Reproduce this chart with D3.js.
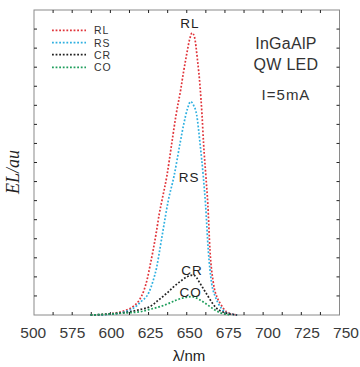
<!DOCTYPE html>
<html><head><meta charset="utf-8">
<script src="https://cdn.jsdelivr.net/npm/d3@7"></script>
<style>html,body{margin:0;padding:0;background:#fff;}svg{display:block;}</style>
</head><body>
<svg id="chart" width="360" height="367"></svg>
<script>
// ---- data ----
const seriesNames = ["RL", "RS", "CR", "CO"];
const seriesColors = ["#e0343a", "#2fb0e0", "#222222", "#1f9e5c"];
const rl = [[587,0],[595,0.02],[600,0.06],[605,0.13],[610,0.24],[615,0.45],[619,0.79],[622,1.3],[624,1.84],[626,2.6],[628,3.4],[630,4.3],[632,5.3],[634,6.1],[637,7.3],[640,8.9],[643,10.5],[646,11.8],[648,12.8],[650,13.7],[652,14.5],[653.5,14.8],[655,14.6],[657,13.4],[658.7,12.0],[660,10.5],[661,9.0],[662.5,7.3],[663.8,5.8],[665.2,3.4],[667.4,1.7],[670,0.9],[672,0.6],[676,0.17],[680,0.05],[683,0]];
const rs = [[587,0],[595,0.01],[600,0.04],[605,0.09],[610,0.18],[615,0.35],[620,0.7],[625,1.15],[628,1.8],[630.3,2.5],[632.5,3.5],[634.6,4.5],[637.9,6.0],[641.7,7.3],[645.6,9.0],[648,10.0],[650.4,10.8],[652.6,11.2],[654.5,11.0],[656.5,10.5],[658.7,9.0],[660.8,7.3],[662.3,5.8],[664.1,3.4],[666.3,1.66],[668.5,1.0],[670.7,0.6],[675,0.17],[680,0.04],[683,0]];
const cr = [[587,0],[600,0.06],[612.8,0.17],[620,0.3],[625.9,0.44],[631,0.75],[636.9,1.14],[641,1.45],[645.6,1.75],[650,2.0],[654.3,2.1],[656.5,1.95],[658.7,1.66],[661.5,1.3],[664.1,0.96],[667,0.6],[669.6,0.35],[673,0.18],[676.2,0.09],[683,0]];
const co = [[587,0],[600,0.05],[610,0.11],[619.4,0.17],[626,0.3],[632.5,0.44],[638,0.6],[643.4,0.79],[648,0.9],[653.2,0.96],[656,0.9],[658.7,0.79],[662,0.62],[665.2,0.44],[668.5,0.26],[671.8,0.12],[675,0.05],[679,0]];
const seriesData = [rl, rs, cr, co];
// peak annotations: [text, wavelength, value] anchor
const peakLabels = [["RL", 652, 15.05], ["RS", 651.5, 7.0], ["CR", 653.5, 2.1], ["CO", 652.5, 0.95]];
const xTickValues = [550, 575, 600, 625, 650, 675, 700, 725, 750];
const xTickLabels = ["500", "575", "600", "625", "650", "675", "700", "725", "750"];
const noteLines = ["InGaAlP", "QW LED", "I=5mA"];

// ---- layout ----
const svg = d3.select("#chart");
const L = 34, R = 339.5, T = 10, B = 315;
const x = d3.scaleLinear([550, 750], [L, R]);
const xLab = d3.scaleLinear([550, 750], [32.8, 345.5]);
const y = d3.scaleLinear([0, 16], [B, T]);

// frame
svg.append("rect").attr("x", L).attr("y", T).attr("width", R - L).attr("height", B - T)
  .attr("fill", "none").attr("stroke", "#8a8a8a").attr("stroke-width", 1);

// minor ticks (inward)
const xt = d3.range(562.5, 750, 12.5);
const yt = d3.range(1, 16, 1);
const tk = svg.append("g").attr("stroke", "#222").attr("stroke-width", 1);
xt.forEach(v => {
  tk.append("line").attr("x1", x(v)).attr("x2", x(v)).attr("y1", B).attr("y2", B - 3);
  tk.append("line").attr("x1", x(v)).attr("x2", x(v)).attr("y1", T).attr("y2", T + 3);
});
yt.forEach(v => {
  tk.append("line").attr("x1", L).attr("x2", L + 3).attr("y1", y(v)).attr("y2", y(v));
  tk.append("line").attr("x1", R).attr("x2", R - 3).attr("y1", y(v)).attr("y2", y(v));
});

// x tick labels via axis
const ax = d3.axisBottom(xLab).tickValues(xTickValues)
  .tickFormat((d, i) => xTickLabels[i]).tickSize(0).tickPadding(0);
const axg = svg.append("g").attr("transform", `translate(0,${B + 12})`).call(ax);
axg.select(".domain").remove();
axg.selectAll("text").attr("font-family", "Liberation Sans, Arial, sans-serif")
  .attr("font-size", 15.5).attr("fill", "#3a3a3a");

// axis titles
svg.append("text").attr("x", 189).attr("y", 361).attr("text-anchor", "middle")
  .attr("font-family", "Liberation Sans, Arial, sans-serif").attr("font-size", 15).attr("fill", "#222")
  .text("λ/nm");
svg.append("text").attr("transform", "translate(19,172) rotate(-90)").attr("text-anchor", "middle")
  .attr("font-family", "Liberation Serif, Times New Roman, serif").attr("font-style", "italic")
  .attr("font-size", 18).attr("fill", "#222").text("EL/au");

// curves
const line = d3.line().x(d => x(d[0])).y(d => y(d[1])).curve(d3.curveMonotoneX);
seriesData.forEach((s, i) => {
  svg.append("path").datum(s).attr("d", line).attr("fill", "none")
    .attr("stroke", seriesColors[i]).attr("stroke-width", 1.7).attr("stroke-dasharray", "1.8,1.8");
});

// peak labels
peakLabels.forEach(p => {
  svg.append("text").attr("x", x(p[1])).attr("y", y(p[2])).attr("text-anchor", "middle")
    .attr("font-family", "Liberation Sans, Arial, sans-serif").attr("font-size", 13.5)
    .attr("letter-spacing", 1).attr("fill", "#222").text(p[0]);
});

// legend
const legY = [30.3, 42.7, 54.7, 67.3];
seriesNames.forEach((n, i) => {
  svg.append("line").attr("x1", 52).attr("x2", 86).attr("y1", legY[i]).attr("y2", legY[i])
    .attr("stroke", seriesColors[i]).attr("stroke-width", 1.7).attr("stroke-dasharray", "1.8,1.8");
  svg.append("text").attr("x", 94).attr("y", legY[i] + 3.8)
    .attr("font-family", "Liberation Sans, Arial, sans-serif").attr("font-size", 10.5)
    .attr("letter-spacing", 1).attr("fill", "#333").text(n);
});

// notes
const noteY = [49.3, 70.3, 100];
const noteSize = [16, 16, 15];
noteLines.forEach((t, i) => {
  svg.append("text").attr("x", 286).attr("y", noteY[i]).attr("text-anchor", "middle")
    .attr("font-family", "Liberation Sans, Arial, sans-serif").attr("font-size", noteSize[i])
    .attr("letter-spacing", i === 2 ? 1 : 0.3).attr("fill", "#333").text(t);
});
</script>
</body></html>
